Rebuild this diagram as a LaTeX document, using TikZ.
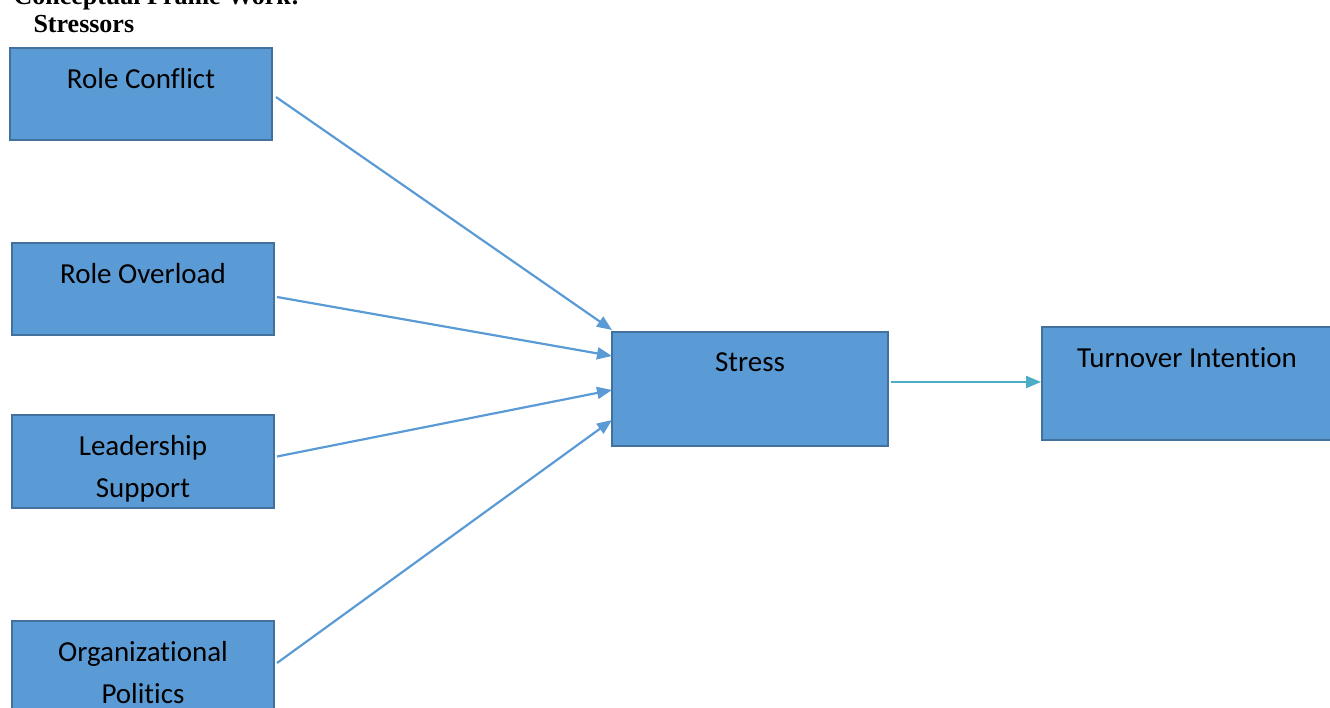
\documentclass[tikz,border=0pt]{standalone}
\usepackage{fontspec}
\setmainfont{Carlito}[RawFeature={-liga}]
\newfontfamily\titlefont{Liberation Serif}
\usetikzlibrary{arrows.meta}
\definecolor{boxfill}{HTML}{5B9BD5}
\definecolor{boxline}{HTML}{41719C}
\definecolor{linkline}{HTML}{5B9BD5}
\definecolor{outline}{HTML}{4BACC6}

\begin{document}
\begin{tikzpicture}[x=1pt, y=-1pt, >={Triangle[width=12pt,length=15pt]},
  factor/.style={draw=boxline, fill=boxfill, line width=2pt, inner sep=0pt},
  boxtext/.style={anchor=north, align=center, font=\fontsize{29}{42}\selectfont, yshift=-18pt},
  link/.style={draw=linkline, line width=2.2pt}]
  \useasboundingbox (0,0) rectangle (1330,708);
  \draw (10, 5)node[anchor=base west, font=\titlefont\bfseries\fontsize{26}{28}\selectfont](title){Conceptual Frame Work:};
  \draw (30, 33)node[anchor=base west, font=\titlefont\bfseries\fontsize{26}{28}\selectfont](stressors){Stressors};

  \draw (141, 94)node[factor, minimum width=262pt, minimum height=92pt, label={[boxtext]north:Role Conflict}](rc){};
  \draw (143, 289)node[factor, minimum width=262pt, minimum height=92pt, label={[boxtext]north:Role Overload}](ro){};
  \draw (143, 461.5)node[factor, minimum width=262pt, minimum height=93pt, label={[boxtext]north:Leadership\\Support}](ls){};
  \draw (143, 667.5)node[factor, minimum width=262pt, minimum height=93pt, label={[boxtext]north:Organizational\\Politics}](op){};

  \draw (750, 389)node[factor, minimum width=276pt, minimum height=114pt, label={[boxtext]north:Stress}](stress){};
  \draw (1187, 383.5)node[factor, minimum width=290pt, minimum height=113pt, label={[boxtext]north:Turnover Intention}](ti){};

  \path[->] ([xshift=3pt, yshift=-3pt]rc.east) edge[link] ([xshift=1pt, yshift=1pt]stress.north west);
  \path[->] ([xshift=2pt, yshift=-8pt]ro.east) edge[link] ([xshift=1pt, yshift=-25pt]stress.north west);
  \path[->] ([xshift=2pt, yshift=5pt]ls.east) edge[link] ([xshift=1pt, yshift=-59pt]stress.north west);
  \path[->] ([xshift=2pt, yshift=4.5pt]op.east) edge[link] ([xshift=1pt, yshift=-89pt]stress.north west);
  \path[->] ([xshift=2pt, yshift=7pt]stress.east) edge[link, draw=outline] ([yshift=1.5pt]ti.west);
\end{tikzpicture}
\end{document}
